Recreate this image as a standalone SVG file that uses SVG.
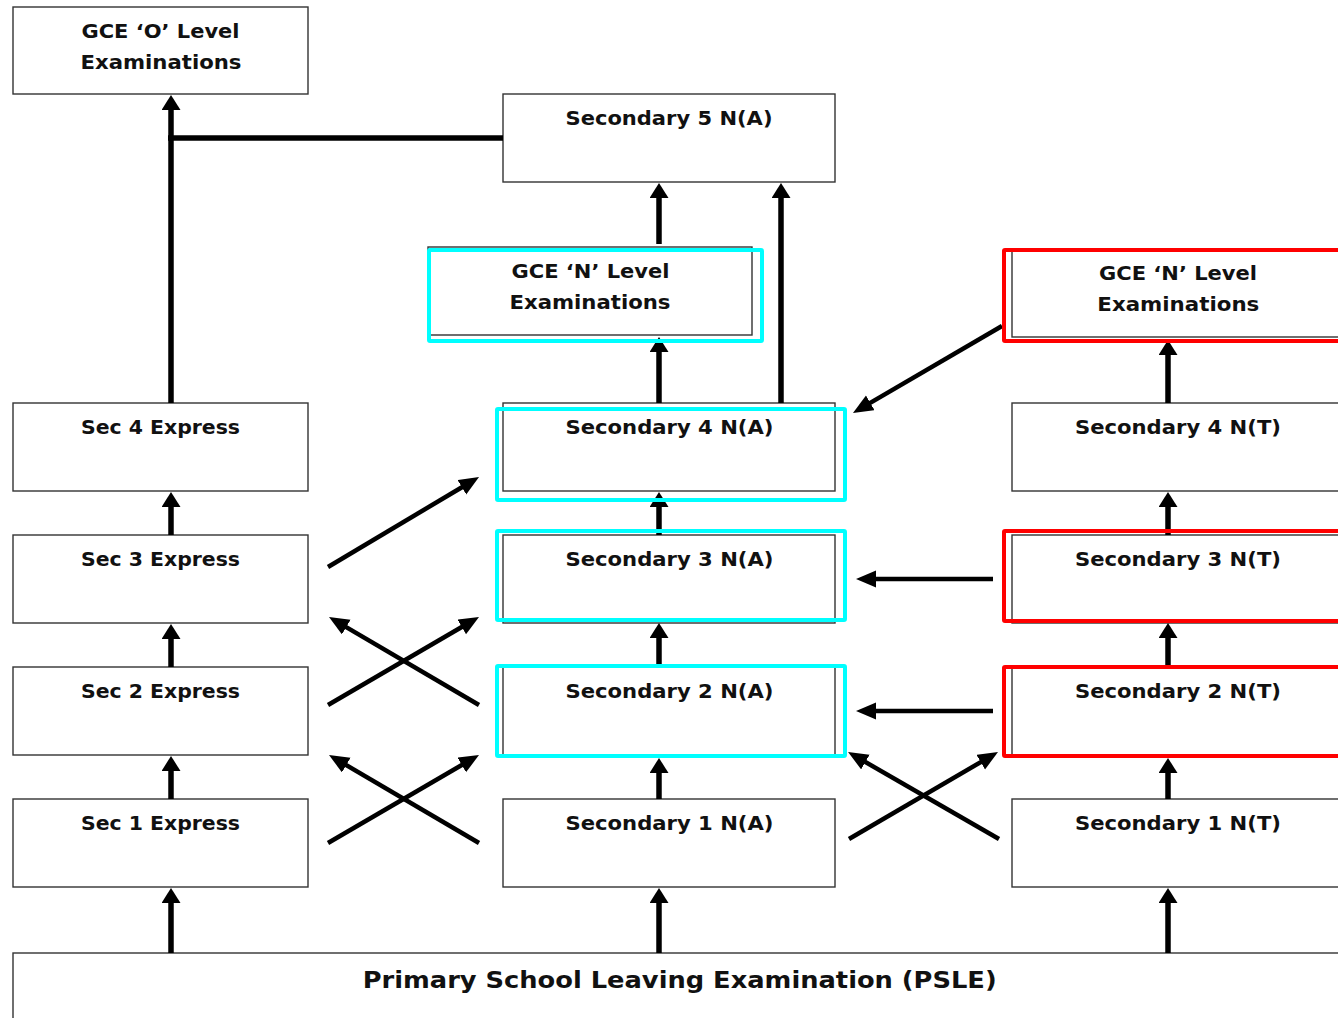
<svg xmlns="http://www.w3.org/2000/svg" width="1338" height="1018" viewBox="0 0 1338 1018">
<style>
.box{fill:#fff;stroke:#333;stroke-width:1.4}
.t{font-family:"DejaVu Sans",Verdana,sans-serif;font-weight:bold;font-size:19px;fill:#111;text-anchor:middle}
.p{font-size:23px}
.v{stroke:#000;stroke-width:5.5;fill:none;marker-end:url(#vh)}
.d{stroke:#000;stroke-width:4.5;fill:none;marker-end:url(#dh)}
.cy{fill:none;stroke:#00FFFF;stroke-width:4}
.rd{fill:none;stroke:#FF0000;stroke-width:4}
</style>
<defs>
<marker id="vh" markerUnits="userSpaceOnUse" markerWidth="16" markerHeight="20" refX="3" refY="9.5" orient="auto"><path d="M0,0 L15,9.5 L0,19 z" fill="#000"/></marker>
<marker id="dh" markerUnits="userSpaceOnUse" markerWidth="21" markerHeight="18" refX="4" refY="8.5" orient="auto"><path d="M0,0 L20,8.5 L0,17 z" fill="#000"/></marker>
</defs>
<rect width="1338" height="1018" fill="#fff"/>

<g id="gce-o"><rect class="box" x="13" y="7" width="295" height="87"/><text class="t" x="160.5" y="38" textLength="158" lengthAdjust="spacingAndGlyphs">GCE ‘O’ Level</text><text class="t" x="161" y="69" textLength="161" lengthAdjust="spacingAndGlyphs">Examinations</text></g>
<g id="sec5na"><rect class="box" x="503" y="94" width="332" height="88"/><text class="t" x="669" y="125" textLength="207" lengthAdjust="spacingAndGlyphs">Secondary 5 N(A)</text></g>
<g id="gce-n-na"><rect class="box" x="428" y="247" width="324" height="88"/><text class="t" x="590.5" y="278" textLength="158" lengthAdjust="spacingAndGlyphs">GCE ‘N’ Level</text><text class="t" x="590" y="309" textLength="161" lengthAdjust="spacingAndGlyphs">Examinations</text></g>
<g id="gce-n-nt"><rect class="box" x="1012" y="250" width="332" height="87"/><text class="t" x="1178" y="280" textLength="158" lengthAdjust="spacingAndGlyphs">GCE ‘N’ Level</text><text class="t" x="1178.3" y="311" textLength="162" lengthAdjust="spacingAndGlyphs">Examinations</text></g>

<g id="sec4e"><rect class="box" x="13" y="403" width="295" height="88"/><text class="t" x="160.5" y="433.5" textLength="159" lengthAdjust="spacingAndGlyphs">Sec 4 Express</text></g>
<g id="sec3e"><rect class="box" x="13" y="535" width="295" height="88"/><text class="t" x="160.5" y="565.5" textLength="159" lengthAdjust="spacingAndGlyphs">Sec 3 Express</text></g>
<g id="sec2e"><rect class="box" x="13" y="667" width="295" height="88"/><text class="t" x="160.5" y="697.5" textLength="159" lengthAdjust="spacingAndGlyphs">Sec 2 Express</text></g>
<g id="sec1e"><rect class="box" x="13" y="799" width="295" height="88"/><text class="t" x="160.5" y="829.5" textLength="159" lengthAdjust="spacingAndGlyphs">Sec 1 Express</text></g>

<g id="sec4na"><rect class="box" x="503" y="403" width="332" height="88"/><text class="t" x="669.5" y="433.5" textLength="208" lengthAdjust="spacingAndGlyphs">Secondary 4 N(A)</text></g>
<g id="sec3na"><rect class="box" x="503" y="535" width="332" height="88"/><text class="t" x="669.5" y="565.5" textLength="208" lengthAdjust="spacingAndGlyphs">Secondary 3 N(A)</text></g>
<g id="sec2na"><rect class="box" x="503" y="667" width="332" height="88"/><text class="t" x="669.5" y="697.5" textLength="208" lengthAdjust="spacingAndGlyphs">Secondary 2 N(A)</text></g>
<g id="sec1na"><rect class="box" x="503" y="799" width="332" height="88"/><text class="t" x="669.5" y="829.5" textLength="208" lengthAdjust="spacingAndGlyphs">Secondary 1 N(A)</text></g>

<g id="sec4nt"><rect class="box" x="1012" y="403" width="332" height="88"/><text class="t" x="1178" y="433.5" textLength="206" lengthAdjust="spacingAndGlyphs">Secondary 4 N(T)</text></g>
<g id="sec3nt"><rect class="box" x="1012" y="535" width="332" height="88"/><text class="t" x="1178" y="565.5" textLength="206" lengthAdjust="spacingAndGlyphs">Secondary 3 N(T)</text></g>
<g id="sec2nt"><rect class="box" x="1012" y="667" width="332" height="88"/><text class="t" x="1178" y="697.5" textLength="206" lengthAdjust="spacingAndGlyphs">Secondary 2 N(T)</text></g>
<g id="sec1nt"><rect class="box" x="1012" y="799" width="332" height="88"/><text class="t" x="1178" y="829.5" textLength="206" lengthAdjust="spacingAndGlyphs">Secondary 1 N(T)</text></g>

<g id="psle"><rect class="box" x="13" y="953" width="1333" height="80"/><text class="t p" x="679.7" y="988" textLength="634" lengthAdjust="spacingAndGlyphs">Primary School Leaving Examination (PSLE)</text></g>

<g id="connectors">
<line class="v" x1="171" y1="953" x2="171" y2="900"/>
<line class="v" x1="171" y1="799" x2="171" y2="768"/>
<line class="v" x1="171" y1="667" x2="171" y2="636"/>
<line class="v" x1="171" y1="535" x2="171" y2="504"/>
<line class="v" x1="171" y1="403" x2="171" y2="107"/>
<line x1="168" y1="138" x2="503" y2="138" stroke="#000" stroke-width="5.5"/>
<line class="v" x1="659" y1="953" x2="659" y2="900"/>
<line class="v" x1="659" y1="799" x2="659" y2="770"/>
<line class="v" x1="659" y1="667" x2="659" y2="635"/>
<line class="v" x1="659" y1="535" x2="659" y2="504"/>
<line class="v" x1="659" y1="403" x2="659" y2="349"/>
<line class="v" x1="659" y1="244" x2="659" y2="195"/>
<line class="v" x1="781" y1="403" x2="781" y2="195"/>
<line class="v" x1="1168" y1="953" x2="1168" y2="900"/>
<line class="v" x1="1168" y1="799" x2="1168" y2="770"/>
<line class="v" x1="1168" y1="667" x2="1168" y2="635"/>
<line class="v" x1="1168" y1="535" x2="1168" y2="504"/>
<line class="v" x1="1168" y1="403" x2="1168" y2="352"/>
<line class="d" x1="328" y1="567" x2="465.3" y2="485.2"/>
<line class="d" x1="328" y1="705" x2="465.2" y2="625"/>
<line class="d" x1="479" y1="705" x2="342.8" y2="625.1"/>
<line class="d" x1="328" y1="843" x2="465.2" y2="763"/>
<line class="d" x1="479" y1="843" x2="342.8" y2="763.1"/>
<line class="d" x1="849" y1="839" x2="984.2" y2="760.1"/>
<line class="d" x1="999" y1="839" x2="861.9" y2="760"/>
<line class="d" x1="993" y1="579" x2="872" y2="579"/>
<line class="d" x1="993" y1="711" x2="872" y2="711"/>
<line class="d" x1="1002" y1="326" x2="866.8" y2="404.9"/>
</g>

<g id="highlights">
<rect class="cy" x="429" y="250" width="333" height="91" rx="1"/>
<rect class="cy" x="497" y="409" width="348" height="91" rx="1"/>
<rect class="cy" x="497" y="531" width="348" height="89" rx="1"/>
<rect class="cy" x="497" y="666" width="348" height="90" rx="1"/>
<rect class="rd" x="1004" y="250" width="340" height="91" rx="1"/>
<rect class="rd" x="1004" y="531" width="340" height="90" rx="1"/>
<rect class="rd" x="1004" y="667" width="340" height="89" rx="1"/>
</g>
</svg>
